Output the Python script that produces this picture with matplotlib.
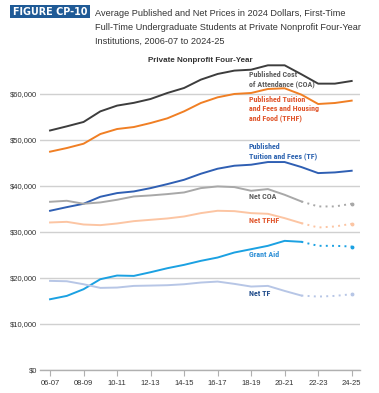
import matplotlib
matplotlib.use("Agg")
import matplotlib.pyplot as plt
from matplotlib.patches import Rectangle
from matplotlib import font_manager
import numpy as np

years = ["06-07", "07-08", "08-09", "09-10", "10-11", "11-12", "12-13", "13-14", "14-15", "15-16",
         "16-17", "17-18", "18-19", "19-20", "20-21", "21-22", "22-23", "23-24", "24-25"]
tick_labels = ["06-07", "08-09", "10-11", "12-13", "14-15", "16-17", "18-19", "20-21", "22-23", "24-25"]

coa = [52000, 52900, 53850, 56150, 57400, 58000, 58840, 60140, 61230, 63040,
       64270, 65000, 65200, 66150, 66150, 64200, 62170, 62170, 62750]
tfhf = [47400, 48190, 49130, 51230, 52320, 52750, 53620, 54640, 56160, 57970,
        59200, 59930, 60140, 61010, 61160, 59780, 57750, 57970, 58480]
tf = [34570, 35360, 36090, 37610, 38410, 38770, 39490, 40360, 41300, 42610,
      43700, 44350, 44570, 45150, 45150, 44060, 42750, 42900, 43260]
net_coa = [36520, 36740, 36090, 36380, 36960, 37680, 37900, 38190, 38550, 39490,
           39860, 39710, 38910, 39280, 38040, 36590, 35510, 35510, 36090]
net_tfhf = [32030, 32170, 31590, 31450, 31810, 32320, 32610, 32900, 33330, 34060,
            34570, 34490, 34060, 33910, 32970, 31880, 30940, 31160, 31740]
grant_aid = [15360, 16090, 17540, 19710, 20510, 20430, 21230, 22100, 22830, 23700,
             24420, 25510, 26230, 26960, 28040, 27830, 26960, 26960, 26810]
net_tf = [19350, 19270, 18620, 17830, 17900, 18260, 18330, 18410, 18620, 18990,
          19200, 18700, 18120, 18260, 17170, 16160, 15940, 16090, 16450]

yticks = [0, 10000, 20000, 30000, 40000, 50000, 60000]
ytick_labels = ["$0", "$10,000", "$20,000", "$30,000", "$40,000", "$50,000", "$60,000"]

plt.rcParams['font.family'] = ['Liberation Sans', 'DejaVu Sans']
names = {f.name for f in font_manager.fontManager.ttflist}
cond = [n for n in ['Roboto Condensed', 'Open Sans Condensed', 'Liberation Sans Narrow',
                    'Noto Sans Condensed', 'DejaVu Sans Condensed'] if n in names]
if cond:
    lab_family = [cond[0], 'DejaVu Sans']
    lab_size = 5.8
else:
    lab_family = ['Liberation Sans', 'DejaVu Sans']
    lab_size = 5.0

fig = plt.figure(figsize=(3.79, 3.93), dpi=100)
ax = fig.add_axes([0.1055, 0.0585, 0.8445, 0.797])

x = np.arange(len(years))
split = 15  # last solid index for net/grant series

ax.plot(x, coa, color="#3d3d3d", lw=1.4)
ax.plot(x, tfhf, color="#f07f24", lw=1.4)
ax.plot(x, tf, color="#2f5fb3", lw=1.4)

dotted = [(net_coa, "#a8a8a8"), (net_tfhf, "#fcc5a3"), (grant_aid, "#1ba1e2"), (net_tf, "#b7c6e6")]
for series, col in dotted:
    ax.plot(x[:split + 1], series[:split + 1], color=col, lw=1.4)
    ax.plot(x[split:], series[split:], color=col, lw=1.4, ls=(0, (1, 2.2)))
    ax.plot(x[-1], series[-1], 'o', color=col, ms=1.8)

ax.set_xlim(-0.6, 18.5)
ax.set_ylim(0, 68000)
ax.set_yticks(yticks)
ax.set_yticklabels(ytick_labels, fontsize=5.5, color="#333333")
ax.set_xticks(np.arange(0, 19, 2))
ax.set_xticklabels(tick_labels, fontsize=5.5, color="#333333")
ax.grid(axis="y", color="#d0d0d0", lw=1.0)
ax.set_axisbelow(True)
for s in ["top", "right", "left"]:
    ax.spines[s].set_visible(False)
ax.spines["bottom"].set_color("#b0b0b0")
ax.spines["bottom"].set_linewidth(1.0)
ax.tick_params(axis="y", length=0, pad=2)
ax.tick_params(axis="x", length=4, color="#b0b0b0", pad=3)

lab_x = 11.85
lkw = dict(fontsize=lab_size, fontweight="bold", ha="left", va="center", linespacing=1.3,
           family=lab_family)
def yv(py):
    # convert a pixel row of the figure to a data value (for label placement only)
    return (370 - py) / 46.0 * 10000

ax.text(lab_x, yv(80), "Published Cost\nof Attendance (COA)", color="#5e5e5e", **lkw)
ax.text(lab_x, yv(109.3), "Published Tuition\nand Fees and Housing\nand Food (TFHF)", color="#e0552b", **lkw)
ax.text(lab_x, yv(151.7), "Published\nTuition and Fees (TF)", color="#2c63b0", **lkw)
ax.text(lab_x, yv(197), "Net COA", color="#5e5e5e", **lkw)
ax.text(lab_x, yv(221), "Net TFHF", color="#e0552b", **lkw)
ax.text(lab_x, yv(255), "Grant Aid", color="#2c8fd6", **lkw)
ax.text(lab_x, yv(294), "Net TF", color="#1f4b8a", **lkw)

# Header
W, H = 379.0, 393.0
fig.patches.append(Rectangle((10 / W, 1 - 18 / H), 80 / W, 13 / H, transform=fig.transFigure,
                             facecolor="#1f5a96", edgecolor="none"))
fig.text(50 / W, 1 - 11.7 / H, "FIGURE CP-10", fontsize=6.9, fontweight="bold", color="white",
         va="center", ha="center", family=['DejaVu Sans'])
for i, line in enumerate(["Average Published and Net Prices in 2024 Dollars, First-Time",
                          "Full-Time Undergraduate Students at Private Nonprofit Four-Year",
                          "Institutions, 2006-07 to 2024-25"]):
    fig.text(95 / W, 1 - (14 + 13.6 * i) / H, line, fontsize=6.6, color="#333333",
             va="center", ha="left")
fig.text(200 / W, 1 - 60 / H, "Private Nonprofit Four-Year", fontsize=5.8, fontweight="bold",
         color="#333333", ha="center", va="center")

fig.savefig("out.png", dpi=100)
